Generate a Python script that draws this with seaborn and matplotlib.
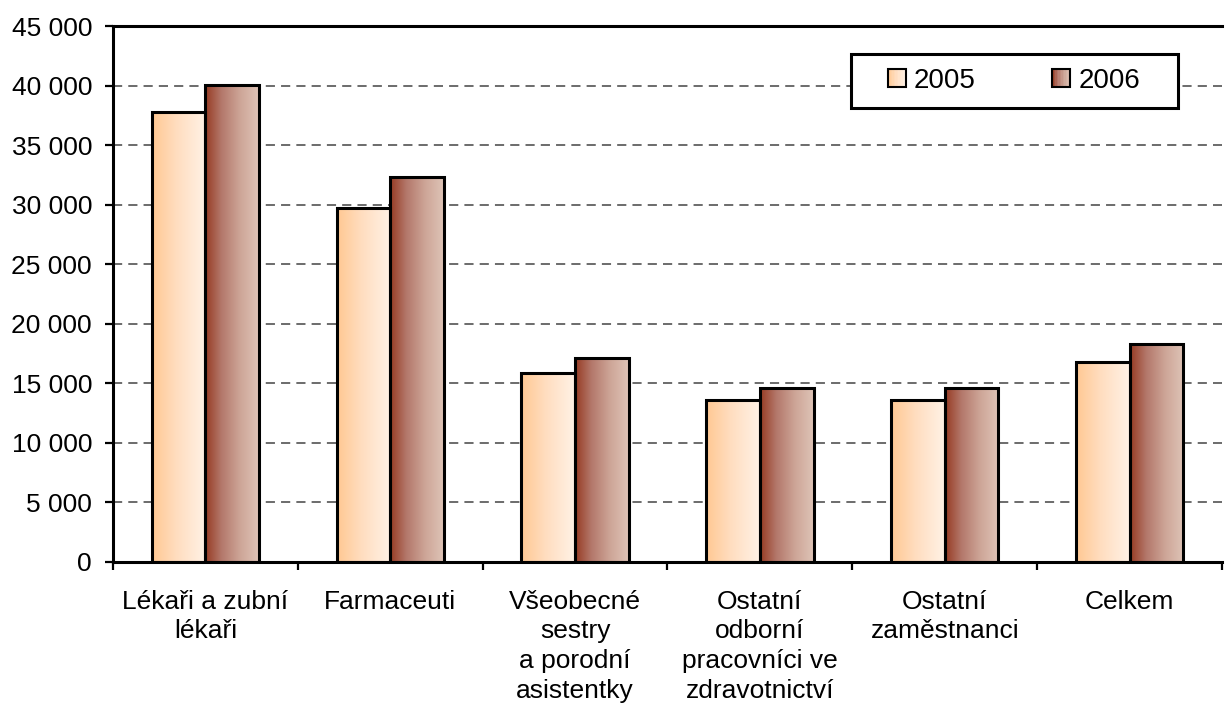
"""
Průměrná mzda ve zdravotnictví 2005/2006 - bar chart with gradient-filled bars.
"""

import numpy as np
import pandas as pd
import matplotlib
matplotlib.use("Agg")
import matplotlib.pyplot as plt
import seaborn as sns
from matplotlib.colors import LinearSegmentedColormap
from matplotlib.legend_handler import HandlerBase
from matplotlib.patches import Rectangle, Patch
from matplotlib.ticker import FuncFormatter, MultipleLocator

categories = [
    "Lékaři a zubní\nlékaři",
    "Farmaceuti",
    "Všeobecné\nsestry\na porodní\nasistentky",
    "Ostatní\nodborní\npracovníci ve\nzdravotnictví",
    "Ostatní\nzaměstnanci",
    "Celkem",
]
years = ["2005", "2006"]
values_2005 = [37800, 29700, 15850, 13600, 13600, 16800]
values_2006 = [40050, 32350, 17100, 14650, 14650, 18300]

df = pd.DataFrame({
    "kategorie": categories * 2,
    "rok": [years[0]] * len(categories) + [years[1]] * len(categories),
    "hodnota": values_2005 + values_2006,
})

# gradients left -> right, roughly as in the original
cmaps = {
    "2005": LinearSegmentedColormap.from_list(
        "g2005", [(0, "#FFC892"), (0.45, "#FFDDBF"), (1, "#FFF2E6")]),
    "2006": LinearSegmentedColormap.from_list(
        "g2006", [(0, "#963A22"), (0.3, "#B3776A"), (0.65, "#CDA597"), (1, "#DFC4B7")]),
}

sns.set_theme(style="white")
plt.rcParams["font.family"] = ["Liberation Sans", "DejaVu Sans"]
plt.rcParams["text.color"] = "black"
plt.rcParams["xtick.color"] = "black"
plt.rcParams["ytick.color"] = "black"
FS = 19

fig = plt.figure(figsize=(12.27, 7.11), dpi=100)
ax = fig.add_axes([0.092, 0.2096, 0.904, 0.7534])

sns.barplot(
    data=df, x="kategorie", y="hodnota", hue="rok", order=categories,
    hue_order=years, palette=["#FFD9B5", "#B87A6A"], width=0.58,
    legend=False, ax=ax,
)

# replace flat fills by horizontal gradients
grad = np.linspace(0, 1, 256).reshape(1, -1)
for year, container in zip(years, ax.containers):
    for rect in container:
        x, y = rect.get_x(), rect.get_y()
        w, h = rect.get_width(), rect.get_height()
        ax.imshow(grad, extent=[x, x + w, y, y + h], aspect="auto",
                  cmap=cmaps[year], interpolation="bilinear", zorder=2)
        rect.set_facecolor("none")
        rect.set_edgecolor("black")
        rect.set_linewidth(2.2)
        rect.set_zorder(3)

ax.set_xlim(-0.5, len(categories) - 0.5)
ax.set_ylim(0, 45000)
ax.set_xlabel("")
ax.set_ylabel("")

ax.yaxis.set_major_locator(MultipleLocator(5000))
ax.yaxis.set_major_formatter(FuncFormatter(lambda v, _: f"{v:,.0f}".replace(",", " ")))
ax.set_axisbelow(True)
ax.grid(axis="y", color="#444444", linestyle=(0, (6, 4)), linewidth=1.1)
ax.grid(axis="x", visible=False)

ax.xaxis.set_minor_locator(MultipleLocator(1, offset=0.5))
ax.tick_params(axis="x", which="major", length=0, pad=20, labelsize=FS,
               labelcolor="black")
ax.tick_params(axis="x", which="minor", length=6, width=1.6, color="black",
               direction="out", bottom=True)
ax.tick_params(axis="y", length=6, width=1.6, color="black", direction="out",
               left=True, pad=9, labelsize=FS, labelcolor="black")
for lab in ax.get_xticklabels():
    lab.set_horizontalalignment("center")
    lab.set_multialignment("center")
    lab.set_linespacing(1.3)

for side in ["left", "bottom", "top"]:
    ax.spines[side].set_visible(True)
    ax.spines[side].set_color("black")
    ax.spines[side].set_linewidth(2.2)
ax.spines["right"].set_visible(False)


class GradientHandler(HandlerBase):
    def __init__(self, cmap):
        super().__init__()
        self.cmap = cmap

    def create_artists(self, legend, orig_handle, xdescent, ydescent,
                       width, height, fontsize, trans):
        size = min(width, height)
        x0, y0 = -xdescent, -ydescent + (height - size) / 2
        n = 12
        arts = []
        for i in range(n):
            arts.append(Rectangle((x0 + i * size / n, y0), size / n + 0.3, size,
                                  facecolor=self.cmap((i + 0.5) / n),
                                  edgecolor="none", transform=trans))
        arts.append(Rectangle((x0, y0), size, size, facecolor="none",
                              edgecolor="black", linewidth=1.5, transform=trans))
        return arts


# legend frame drawn separately to get the wide box of the original
ax.add_patch(Rectangle((0.665, 0.847), 0.295, 0.101, transform=ax.transAxes,
                       facecolor="white", edgecolor="black", linewidth=2.2,
                       zorder=4))
handles = [Patch(label=y) for y in years]
leg = ax.legend(
    handles=handles, labels=years, ncol=2, frameon=False, fontsize=FS + 1,
    loc="center", bbox_to_anchor=(0.8125, 0.8975),
    handler_map={handles[0]: GradientHandler(cmaps["2005"]),
                 handles[1]: GradientHandler(cmaps["2006"])},
    handlelength=0.65, handleheight=0.65, handletextpad=0.3,
    columnspacing=2.75, borderpad=0,
)
leg.set_zorder(5)

fig.savefig("out.png", dpi=100)
